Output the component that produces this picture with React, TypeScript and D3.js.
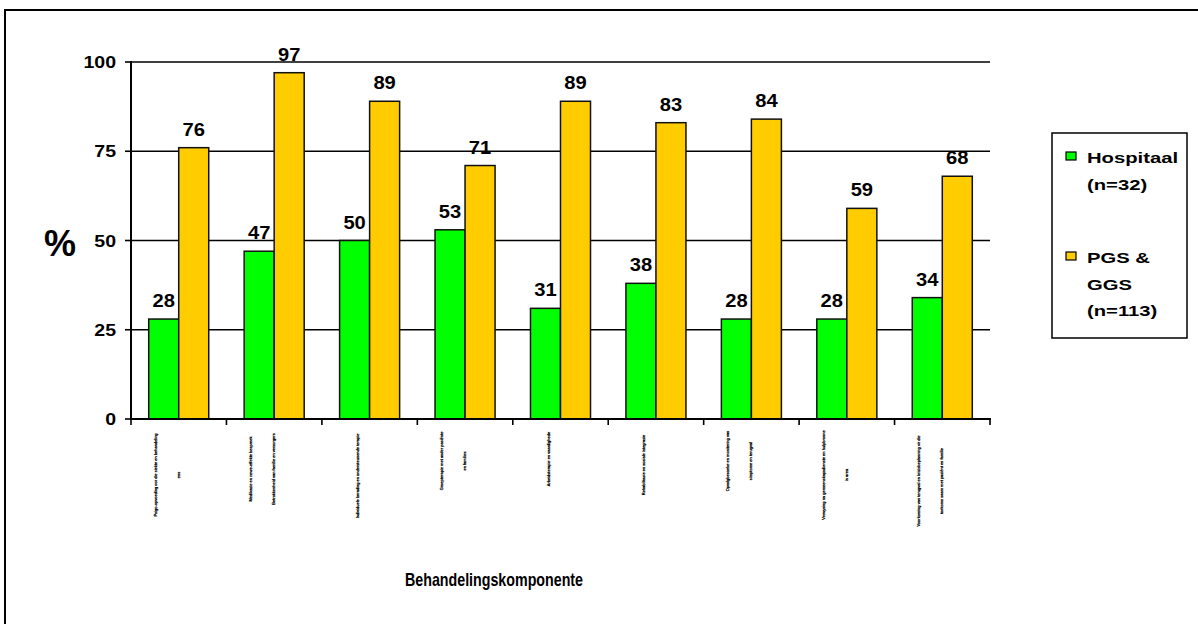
import React from "react";
import * as d3 from "d3";

// Treatment components (each label wraps onto up to two lines)
const categoryLines: string[][] = [
  ["Psigo-opvoeding oor die siekte en behandeling", "ens"],
  ["Medikasie en newe-effekte bespreek", "Betrokkenheid van familie en versorgers"],
  ["Individuele berading en ondersteunende terapie"],
  ["Groepterapie met ander pasiënte", "en families"],
  ["Arbeidsterapie en vaardighede"],
  ["Rehabilitasie en sosiale integrasie"],
  ["Opvolgbesoeke en monitering van", "simptome en terugval"],
  ["Verwysing na gemeenskapsdienste en hulpbronne", "in area"],
  ["Voorkoming van terugval en krisisbeplanning vir die", "toekoms saam met pasiënt en familie"],
];

const hospitaal = [28, 47, 50, 53, 31, 38, 28, 28, 34];
const pgsGgs = [76, 97, 89, 71, 89, 83, 84, 59, 68];
const yTicks = [0, 25, 50, 75, 100];

const seriesKeys = ["hospitaal", "pgsGgs"];
const seriesColors = ["#00FF00", "#FFCC00"];
const legendLines = [["Hospitaal", "(n=32)"], ["PGS &", "GGS", "(n=113)"]];
const axisTitle = "Behandelingskomponente";
const yTitle = "%";

const W = 1198;
const H = 624;
const FONT = "'Liberation Sans', Arial, Helvetica, sans-serif";

// Text drawn with a horizontal stretch factor
function SText({ x, y, sx = 1, size, anchor = "middle", children, weight = "bold", fill = "#000" }: any) {
  return (
    <text
      transform={`translate(${x},${y}) scale(${sx},1)`}
      fontFamily={FONT}
      fontSize={size}
      fontWeight={weight}
      textAnchor={anchor}
      fill={fill}
    >
      {children}
    </text>
  );
}

export default function App() {
  const plotLeft = 131;
  const plotRight = 990;
  const idx = categoryLines.map((_, i) => String(i));

  const x0 = d3.scaleBand<string>().domain(idx).range([plotLeft, plotRight]).paddingInner(0).paddingOuter(0);
  const x1 = d3.scaleBand<string>().domain(seriesKeys).range([0, x0.bandwidth()]).paddingInner(0).paddingOuter(0.59);
  const y = d3.scaleLinear().domain([0, 100]).range([419, 62]);

  const seriesValues = [hospitaal, pgsGgs];
  const tickXs = [...idx.map((k) => x0(k) as number), plotRight];

  const labelFont = 4;
  const charW = 2.0;
  const lineGap = 23;
  const labelTop = 430;

  return (
    <svg width={W} height={H} style={{ position: "absolute", left: 0, top: 0, background: "#fff", overflow: "hidden" }}>
      <rect x={0} y={0} width={W} height={H} fill="#fff" />
      {/* outer frame */}
      <path d={`M5,${H} L5,10 L${W},10`} fill="none" stroke="#000" strokeWidth={2} />

      {/* gridlines */}
      {yTicks.filter((t) => t > 0).map((t) => (
        <line key={t} x1={plotLeft} x2={plotRight} y1={y(t)} y2={y(t)} stroke="#000" strokeWidth={1.6} />
      ))}

      {/* bars */}
      {seriesValues.map((vals, s) =>
        vals.map((v, i) => (
          <rect
            key={`${s}-${i}`}
            x={(x0(String(i)) as number) + (x1(seriesKeys[s]) as number)}
            y={y(v)}
            width={x1.bandwidth()}
            height={y(0) - y(v)}
            fill={seriesColors[s]}
            stroke="#111"
            strokeWidth={1.5}
          />
        ))
      )}

      {/* value labels */}
      {seriesValues.map((vals, s) =>
        vals.map((v, i) => (
          <SText
            key={`l${s}-${i}`}
            x={(x0(String(i)) as number) + (x1(seriesKeys[s]) as number) + x1.bandwidth() / 2}
            y={y(v) - 12}
            sx={1.12}
            size={18}
          >
            {v}
          </SText>
        ))
      )}

      {/* y axis */}
      <line x1={plotLeft} x2={plotLeft} y1={y(100) - 1} y2={y(0) + 1} stroke="#000" strokeWidth={2} />
      {yTicks.map((t) => (
        <g key={t}>
          <line x1={plotLeft - 6} x2={plotLeft} y1={y(t)} y2={y(t)} stroke="#000" strokeWidth={1.6} />
          <SText x={116} y={y(t) + 6} sx={1.15} size={17} anchor="end">
            {t}
          </SText>
        </g>
      ))}
      <SText x={60} y={256} size={36} sx={1}>
        {yTitle}
      </SText>

      {/* x axis */}
      <line x1={plotLeft} x2={plotRight + 1} y1={y(0)} y2={y(0)} stroke="#000" strokeWidth={2} />
      {tickXs.map((tx, i) => (
        <line key={i} x1={tx} x2={tx} y1={y(0)} y2={y(0) + 6} stroke="#000" strokeWidth={1.6} />
      ))}

      {/* category labels, rotated */}
      {categoryLines.map((lines, i) => {
        const cx = (x0(String(i)) as number) + x0.bandwidth() / 2 - 12;
        const maxLen = d3.max(lines, (l) => l.length * charW) as number;
        const cy = labelTop + maxLen / 2;
        return lines.map((line, j) => {
          const lx = cx + (j - (lines.length - 1) / 2) * lineGap + 1.5;
          return (
            <text
              key={`c${i}-${j}`}
              transform={`translate(${lx},${cy}) rotate(-90)`}
              fontFamily={FONT}
              fontSize={labelFont}
              textAnchor="middle"
              fill="#000"
              stroke="#000"
              strokeWidth={0.25}
            >
              {line}
            </text>
          );
        });
      })}

      {/* x axis title */}
      <SText x={494} y={586} size={19} sx={0.75}>
        {axisTitle}
      </SText>

      {/* legend */}
      <rect x={1052} y={133} width={135} height={205} fill="#fff" stroke="#000" strokeWidth={1.5} />
      {legendLines.map((lines, s) => {
        const top = s === 0 ? 163 : 263;
        return (
          <g key={s}>
            <rect x={1066} y={top - 11} width={10} height={8} fill={seriesColors[s]} stroke="#000" strokeWidth={1.2} />
            {lines.map((ln, j) => (
              <SText key={j} x={1087} y={top + j * 26.5} size={15} sx={1.35} anchor="start">
                {ln}
              </SText>
            ))}
          </g>
        );
      })}
    </svg>
  );
}
